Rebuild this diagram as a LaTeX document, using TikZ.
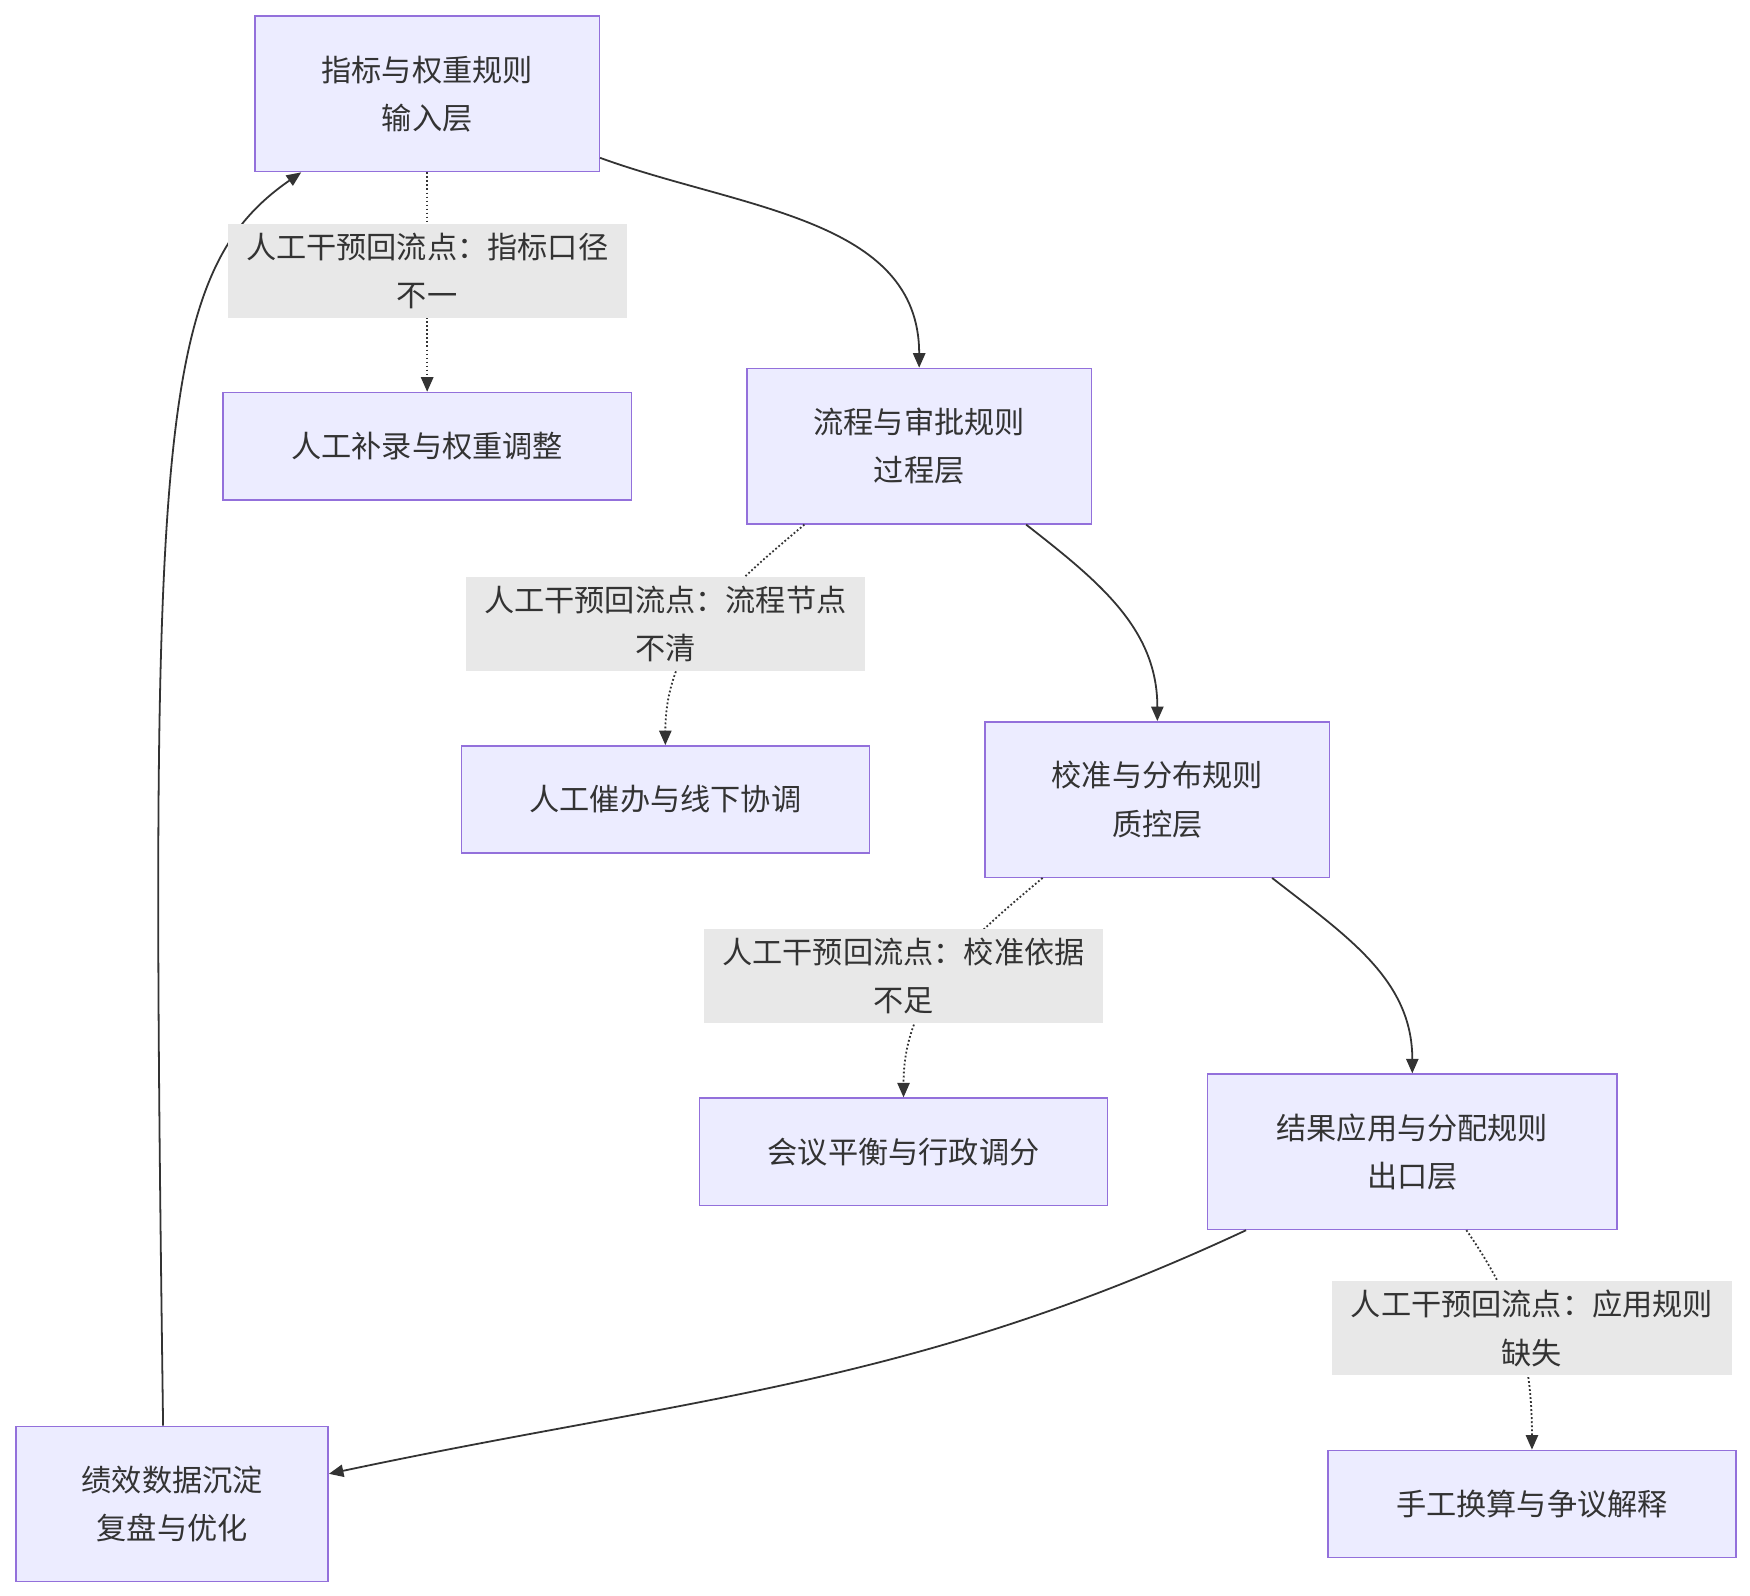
\documentclass[tikz,border=0pt]{standalone}
\usepackage{fontspec}
\setmainfont{Noto Sans CJK SC}
\usetikzlibrary{calc}
\usetikzlibrary{arrows.meta}
\definecolor{boxfill}{HTML}{ECECFF}
\definecolor{boxline}{HTML}{9370DB}
\definecolor{labfill}{HTML}{E8E8E8}
\definecolor{edge}{HTML}{333333}
\tikzset{
  box/.style={draw=boxline, fill=boxfill, line width=1.3pt, align=center, inner sep=0pt, text=edge},
  rule/.style={box, minimum width=308pt, minimum height=139pt},
  manual/.style={box, minimum width=365pt, minimum height=96pt},
  lab/.style={fill=labfill, align=center, inner sep=0pt, minimum width=357pt, minimum height=84pt, text=edge},
  flow/.style={draw=edge, line width=1.6pt, -{Triangle[length=13pt,width=11pt]}},
  back/.style={flow, dotted, line width=1.6pt}
}
\begin{document}
\begin{tikzpicture}[x=1pt, y=-1pt, font=\fontsize{27}{43}\selectfont]
\useasboundingbox[fill=white] (0,0) rectangle (1565,1427);

\node[rule] (A) at (382,84) {指标与权重规则\\输入层};
\node[rule] (B) at (822,399) {流程与审批规则\\过程层};
\node[rule] (C) at (1035,715) {校准与分布规则\\质控层};
\node[rule, minimum width=366pt] (D) at (1263,1030) {结果应用与分配规则\\出口层};
\node[rule, minimum width=279pt] (E) at (154,1345) {绩效数据沉淀\\复盘与优化};

\node[manual] (M1) at (382,399) {人工补录与权重调整};
\node[manual] (M2) at (595,715) {人工催办与线下协调};
\node[manual] (M3) at (808,1030) {会议平衡与行政调分};
\node[manual] (M4) at (1370,1345) {手工换算与争议解释};

% main flow
\draw[flow] ([yshift=13pt]A.south east) to[out=-20,in=90] (B.north);
\draw[flow] ([xshift=-59pt]B.south east) to[out=-38,in=90] (C.north);
\draw[flow] ([xshift=-52pt]C.south east) to[out=-38,in=90] (D.north);
\draw[flow] ([xshift=35pt]D.south west) to[out=-155,in=12] ([yshift=27pt]E.east);
\draw[flow] ([xshift=132pt]E.north west) .. controls +(-12,-880) and +(-130,90) .. ([xshift=42pt]A.south west);

% manual fallbacks
\draw[back] (A.south) -- (M1.north);
\draw[back] ([xshift=52pt]B.south west) to[out=-140,in=90] (M2.north);
\draw[back] ([xshift=52pt]C.south west) to[out=-140,in=90] (M3.north);
\draw[back] ([xshift=232pt]D.south west) to[out=-55,in=90] (M4.north);

\node[lab] (L1) at (382,242) {人工干预回流点：指标口径\\不一};
\node[lab] (L2) at (595,558) {人工干预回流点：流程节点\\不清};
\node[lab] (L3) at (808,873) {人工干预回流点：校准依据\\不足};
\node[lab] (L4) at (1370,1188) {人工干预回流点：应用规则\\缺失};
\end{tikzpicture}
\end{document}
